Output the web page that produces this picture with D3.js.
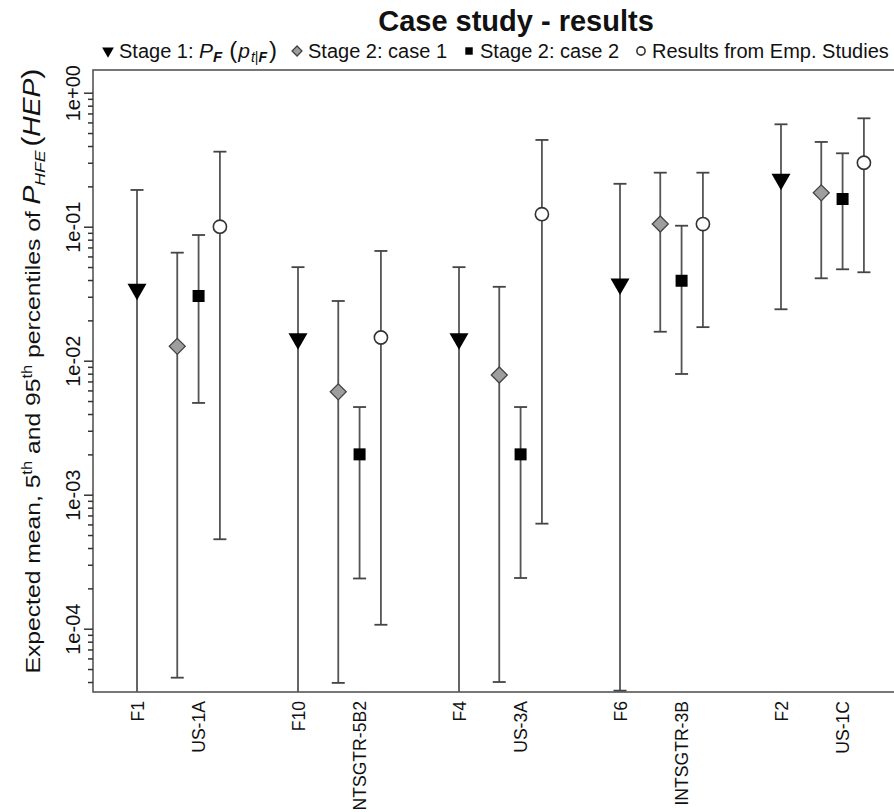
<!DOCTYPE html>
<html><head><meta charset="utf-8">
<script src="https://cdn.jsdelivr.net/npm/d3@7"></script>
<style>
body{margin:0;background:#fff;}
svg{display:block;font-family:"Liberation Sans", Arial, sans-serif;}
</style></head><body>
<svg id="chart" width="894" height="812"></svg>
<script>
// ---------- data ----------
const groupLabels   = ["F1", "F10", "F4", "F6", "F2"];
const partnerLabels = ["US-1A", "NTSGTR-5B2", "US-3A", "INTSGTR-3B", "US-1C"];
const seriesNames   = ["Stage 1", "Stage 2: case 1", "Stage 2: case 2", "Results from Emp. Studies"];

const stage1Mean = [0.0341, 0.0146, 0.0146, 0.0374, 0.226];
const stage1Low  = [1e-5,   1e-5,   1e-5,   3.45e-5, 0.0242];
const stage1High = [0.188,  0.0499, 0.0499, 0.209,  0.581];

const case1Mean  = [0.0128, 0.00586, 0.00782, 0.1047, 0.179];
const case1Low   = [4.31e-5, 3.94e-5, 4.0e-5, 0.01645, 0.0412];
const case1High  = [0.064,  0.0279, 0.0356, 0.253, 0.429];

const case2Mean  = [0.0304, 0.0020, 0.0020, 0.0395, 0.161];
const case2Low   = [0.00484, 2.37e-4, 2.39e-4, 0.00796, 0.0481];
const case2High  = [0.0867, 0.00451, 0.00451, 0.1017, 0.353];

const empMean    = [0.1,    0.0149, 0.124, 0.1047, 0.300];
const empLow     = [4.65e-4, 1.07e-4, 6.08e-4, 0.0178, 0.0457];
const empHigh    = [0.363,  0.0659, 0.444, 0.253, 0.644];

const yTickValues = [1e-4, 1e-3, 1e-2, 1e-1, 1];
const yTickLabels = ["1e-04", "1e-03", "1e-02", "1e-01", "1e+00"];

// ---------- layout ----------
const plot = {left: 93, right: 915, top: 70, bottom: 692};
const slotOffsets = [0, 1, 1.53, 2.06];   // within-group placement of the four series
const slotsPerGroup = 4;
const barColor = "#555";
const svg = d3.select("#chart");

const y = d3.scaleLog().domain([1e-4, 1]).range([628.7, 92.7]);
const x = d3.scaleLinear()
  .domain([0, (groupLabels.length - 1) * slotsPerGroup])
  .range([137, 781]);

const series = [
  {name: seriesNames[0], mean: stage1Mean, low: stage1Low, high: stage1High, shape: "tri"},
  {name: seriesNames[1], mean: case1Mean,  low: case1Low,  high: case1High,  shape: "diamond"},
  {name: seriesNames[2], mean: case2Mean,  low: case2Low,  high: case2High,  shape: "square"},
  {name: seriesNames[3], mean: empMean,    low: empLow,    high: empHigh,    shape: "circle"}
];

// clip
svg.append("defs").append("clipPath").attr("id", "clip")
  .append("rect").attr("x", plot.left).attr("y", plot.top)
  .attr("width", plot.right - plot.left).attr("height", plot.bottom - plot.top);

// box
svg.append("rect")
  .attr("x", plot.left).attr("y", plot.top)
  .attr("width", plot.right - plot.left).attr("height", plot.bottom - plot.top)
  .attr("fill", "none").attr("stroke", "#555").attr("stroke-width", 1.6);

// y axis major
const yAxisMajor = d3.axisLeft(y).tickValues(yTickValues).tickSize(9)
  .tickFormat((d, i) => yTickLabels[i]);
const gy = svg.append("g").attr("transform", `translate(${plot.left},0)`).call(yAxisMajor);
gy.select(".domain").remove();
gy.selectAll(".tick line").attr("stroke", "#333").attr("stroke-width", 1.5);
gy.selectAll(".tick text")
  .attr("x", null).attr("dy", null).attr("y", null)
  .attr("text-anchor", "middle")
  .attr("transform", "translate(-13,0) rotate(-90)")
  .attr("font-size", 20).attr("fill", "#111")
  .attr("font-family", "Liberation Sans, Arial, sans-serif");

// y axis minor
const [lo, hi] = [plot.bottom, plot.top].map(p => y.invert(p));
const minor = [];
for (let e = -5; e <= 0; e++) {
  for (let m = 2; m <= 9; m++) {
    const v = m * Math.pow(10, e);
    if (v >= lo && v <= hi) minor.push(v);
  }
}
const gmin = svg.append("g").attr("transform", `translate(${plot.left},0)`)
  .call(d3.axisLeft(y).tickValues(minor).tickSize(5).tickFormat(""));
gmin.select(".domain").remove();
gmin.selectAll(".tick line").attr("stroke", "#333").attr("stroke-width", 1.5);

// x axis labels
const labelPositions = [];
groupLabels.forEach((g, i) => {
  labelPositions.push({pos: i * slotsPerGroup + slotOffsets[0], label: g});
  labelPositions.push({pos: i * slotsPerGroup + slotOffsets[2], label: partnerLabels[i]});
});
const gx = svg.append("g").attr("transform", `translate(0,${plot.bottom})`)
  .call(d3.axisBottom(x).tickValues(labelPositions.map(d => d.pos)).tickSize(0)
    .tickFormat((d, i) => labelPositions[i].label));
gx.select(".domain").remove();
gx.selectAll(".tick text")
  .attr("y", null).attr("dy", null)
  .attr("text-anchor", "end")
  .attr("transform", "translate(6,9) rotate(-90)")
  .attr("font-size", 17.6).attr("fill", "#111")
  .attr("font-family", "Liberation Sans, Arial, sans-serif");

// marker shapes
function symbolPath(shape, scale) {
  const k = scale || 1;
  if (shape === "tri") return d3.symbol(d3.symbolTriangle, 156 * k * k)();
  if (shape === "diamond") return d3.symbol(d3.symbolSquare, 128 * k * k)();
  if (shape === "square") return d3.symbol(d3.symbolSquare, 144 * k * k)();
  return null;
}
function drawMarker(g, shape, cx, cy, k) {
  k = k || 1;
  if (shape === "circle") {
    g.append("circle").attr("cx", cx).attr("cy", cy).attr("r", 6.6 * k)
      .attr("fill", "#fff").attr("stroke", "#333").attr("stroke-width", 1.6);
  } else if (shape === "tri") {
    g.append("path").attr("d", symbolPath(shape, k))
      .attr("transform", `translate(${cx},${cy}) rotate(180)`).attr("fill", "#000");
  } else if (shape === "diamond") {
    g.append("path").attr("d", symbolPath(shape, k))
      .attr("transform", `translate(${cx},${cy}) rotate(45)`)
      .attr("fill", "#9e9e9e").attr("stroke", "#444").attr("stroke-width", 1.3);
  } else {
    g.append("path").attr("d", symbolPath(shape, k))
      .attr("transform", `translate(${cx},${cy})`).attr("fill", "#000");
  }
}

// error bars + markers
const gData = svg.append("g").attr("clip-path", "url(#clip)");
const capHalf = 6.5;
series.forEach((s, si) => {
  groupLabels.forEach((gname, gi) => {
    const cx = x(gi * slotsPerGroup + slotOffsets[si]);
    const yl = y(s.low[gi]), yh = y(s.high[gi]);
    gData.append("line").attr("x1", cx).attr("x2", cx).attr("y1", yl).attr("y2", yh)
      .attr("stroke", barColor).attr("stroke-width", 1.8);
    [yl, yh].forEach(yy => {
      gData.append("line").attr("x1", cx - capHalf).attr("x2", cx + capHalf)
        .attr("y1", yy).attr("y2", yy).attr("stroke", "#444").attr("stroke-width", 1.8);
    });
  });
});
series.forEach((s, si) => {
  groupLabels.forEach((gname, gi) => {
    const cx = x(gi * slotsPerGroup + slotOffsets[si]);
    drawMarker(gData, s.shape, cx, y(s.mean[gi]));
  });
});

// title
svg.append("text").attr("x", 516).attr("y", 31).attr("text-anchor", "middle")
  .attr("font-size", 29).attr("font-weight", "bold").attr("fill", "#111")
  .text("Case study - results");

// legend
const legY = 58;
let lx = 108;
series.forEach((s, si) => {
  const lg = svg.append("g");
  drawMarker(lg, s.shape, lx, legY - 7, 0.62);
  const t = lg.append("text").attr("x", lx + 11).attr("y", legY)
    .attr("font-size", 20).attr("fill", "#111");
  if (si === 0) {
    t.append("tspan").text(s.name + ": ");
    t.append("tspan").attr("font-style", "italic").attr("font-size", 21).text("P");
    t.append("tspan").attr("font-style", "italic").attr("font-weight", "bold")
      .attr("font-size", 15).attr("dy", 4).text("F");
    t.append("tspan").attr("dy", -4).attr("dx", 7).attr("font-size", 24).text("(");
    t.append("tspan").attr("font-style", "italic").attr("font-size", 21).attr("dx", 1).text("p");
    t.append("tspan").attr("font-style", "italic").attr("font-size", 14).attr("dy", 4).attr("dx", 1).text("t");
    t.append("tspan").attr("font-size", 14).text("|");
    t.append("tspan").attr("font-style", "italic").attr("font-weight", "bold")
      .attr("font-size", 14).text("F");
    t.append("tspan").attr("dy", -4).attr("dx", 2).attr("font-size", 24).text(")");
  } else {
    t.text(s.name);
  }
  const bb = t.node().getBBox();
  lx = bb.x + bb.width + (si === 0 ? 20 : 22);
});

// y axis title
const yt = svg.append("text")
  .attr("transform", "translate(40,371) rotate(-90)")
  .attr("text-anchor", "middle").attr("font-size", 21).attr("fill", "#111");
yt.append("tspan").text("Expected mean, 5");
yt.append("tspan").attr("font-size", 14).attr("dy", -8).text("th");
yt.append("tspan").attr("dy", 8).text(" and 95");
yt.append("tspan").attr("font-size", 14).attr("dy", -8).text("th");
yt.append("tspan").attr("dy", 8).text(" percentiles of ");
yt.append("tspan").attr("font-style", "italic").attr("font-size", 24).text("P");
yt.append("tspan").attr("font-style", "italic").attr("font-size", 15).attr("dy", 5).text("HFE");
yt.append("tspan").attr("dy", -5).attr("dx", 3).attr("font-size", 26).text("(");
yt.append("tspan").attr("font-style", "italic").attr("font-size", 24).text("HEP");
yt.append("tspan").attr("font-size", 26).text(")");
yt.attr("textLength", 605).attr("lengthAdjust", "spacingAndGlyphs");
</script>
</body></html>
